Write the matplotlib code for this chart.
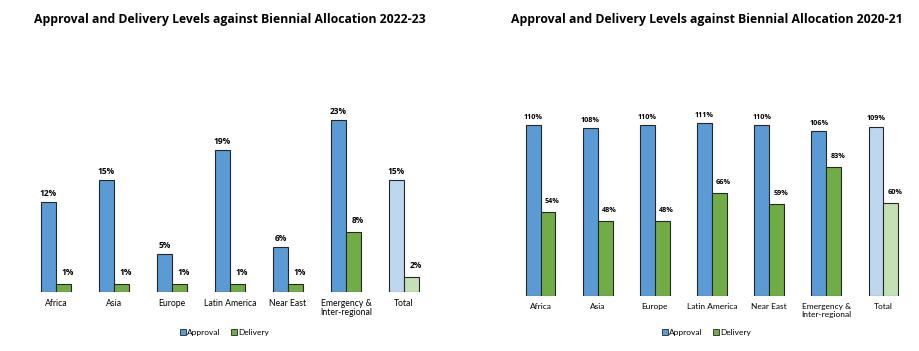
import matplotlib
matplotlib.use("Agg")
import matplotlib.pyplot as plt
from matplotlib.patches import Patch
import numpy as np

regions = ["Africa", "Asia", "Europe", "Latin America", "Near East",
           "Emergency &\nInter-regional", "Total"]

approval_2223 = [12, 15, 5, 19, 6, 23, 15]
delivery_2223 = [1, 1, 1, 1, 1, 8, 2]

approval_2021 = [110, 108, 110, 111, 110, 106, 109]
delivery_2021 = [54, 48, 48, 66, 59, 83, 60]

BLUE = "#5B9BD5"
GREEN = "#70AD47"
LIGHT_BLUE = "#BDD7EE"
LIGHT_GREEN = "#C5E0B4"
EDGE = "#262626"

W, H = 920, 351


def px_box(left, right, bottom, top):
    # pixel coords (top-left origin) -> figure fraction rect
    return [left / W, 1 - bottom / H, (right - left) / W, (bottom - top) / H]


def draw_panel(fig, rect, approval, delivery, ymax, title, title_x,
               label_size, tick_size):
    ax = fig.add_axes(rect)
    x = np.arange(len(regions))
    width = 0.26
    a_colors = [BLUE] * (len(regions) - 1) + [LIGHT_BLUE]
    d_colors = [GREEN] * (len(regions) - 1) + [LIGHT_GREEN]

    ab = ax.bar(x - width / 2, approval, width, color=a_colors,
                edgecolor=EDGE, linewidth=0.8)
    db = ax.bar(x + width / 2, delivery, width, color=d_colors,
                edgecolor=EDGE, linewidth=0.8)

    for rect_, v in zip(ab, approval):
        ax.annotate("{}%".format(v),
                    (rect_.get_x() + rect_.get_width() / 2, rect_.get_height()),
                    xytext=(0, 3), textcoords="offset points",
                    ha="center", va="bottom", fontsize=label_size,
                    fontweight="bold", family="Open Sans")
    for rect_, v in zip(db, delivery):
        ax.annotate("{}%".format(v),
                    (rect_.get_x() + rect_.get_width() / 2, rect_.get_height()),
                    xytext=(3, 5), textcoords="offset points",
                    ha="center", va="bottom", fontsize=label_size,
                    fontweight="bold", family="Open Sans")

    ax.set_xlim(-0.5, len(regions) - 0.5)
    ax.set_ylim(0, ymax)
    ax.set_xticks(x)
    ax.set_xticklabels(regions, fontsize=tick_size, family="Lato",
                       linespacing=1.1)
    ax.tick_params(axis="x", length=0, pad=5)
    ax.set_yticks([])
    for s in ax.spines.values():
        s.set_visible(False)

    fig.text(title_x, 1 - 19 / H, title, ha="center", va="center",
             fontsize=8.8, fontweight="bold", family="Open Sans")

    handles = [Patch(facecolor=BLUE, edgecolor=EDGE, linewidth=0.6),
               Patch(facecolor=GREEN, edgecolor=EDGE, linewidth=0.6)]
    cx = (rect[0] + rect[2] / 2)
    fig.legend(handles, ["Approval", "Delivery"], loc="center",
               bbox_to_anchor=(cx - 0.006, 1 - 332 / H), ncol=2, frameon=False,
               prop={"family": "Lato", "size": 6}, handlelength=0.7,
               handleheight=0.7, handletextpad=0.2, columnspacing=1.2)
    return ax


fig = plt.figure(figsize=(9.2, 3.51), dpi=100)

# left: 7.45 px per percentage point, baseline at y=291.7
draw_panel(fig, px_box(27, 433, 291.7, 291.7 - 26 * 7.45),
           approval_2223, delivery_2223, 26,
           "Approval and Delivery Levels against Biennial Allocation 2022-23",
           230 / W, 6, 6.2)

# right: 1.555 px per percentage point, baseline at y=296
draw_panel(fig, px_box(512, 912, 296, 296 - 120 * 1.555),
           approval_2021, delivery_2021, 120,
           "Approval and Delivery Levels against Biennial Allocation 2020-21",
           707 / W, 5.2, 6)

plt.savefig("out.png", dpi=100)
